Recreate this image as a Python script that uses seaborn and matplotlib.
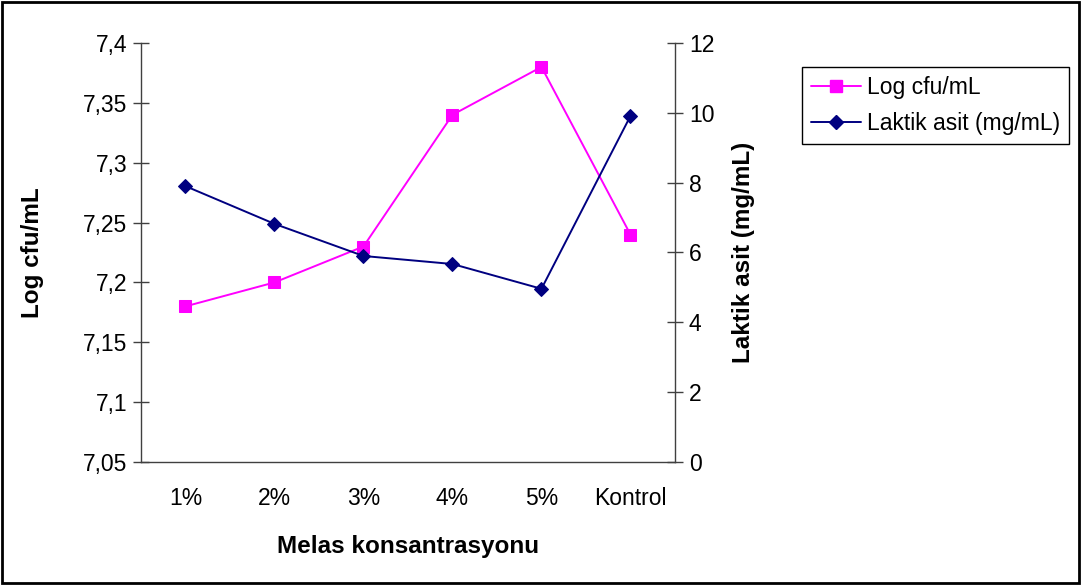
import pandas as pd
import numpy as np
import matplotlib
matplotlib.use('Agg')
import matplotlib.pyplot as plt
import seaborn as sns
from matplotlib.lines import Line2D

categories = ['1%', '2%', '3%', '4%', '5%', 'Kontrol']
log_cfu = [7.18, 7.20, 7.23, 7.34, 7.38, 7.24]
laktik_asit = [7.9, 6.82, 5.9, 5.67, 4.96, 9.91]
left_ticks = [7.05, 7.1, 7.15, 7.2, 7.25, 7.3, 7.35, 7.4]
left_ticklabels = ['7,05', '7,1', '7,15', '7,2', '7,25', '7,3', '7,35', '7,4']
right_ticks = [0, 2, 4, 6, 8, 10, 12]

df = pd.DataFrame({'Konsantrasyon': categories, 'LogCfu': log_cfu, 'Laktik': laktik_asit})

sns.set_style('white')
plt.rcParams['font.family'] = ['Liberation Sans', 'DejaVu Sans']
plt.rcParams['text.color'] = 'black'
plt.rcParams['axes.labelcolor'] = 'black'
plt.rcParams['xtick.labelcolor'] = 'black'
plt.rcParams['ytick.labelcolor'] = 'black'
FS = 16.5
FS_LABEL = 17.5
PINK = '#FF00FF'
NAVY = '#000080'

fig = plt.figure(figsize=(10.82, 5.85), dpi=100)
ax = fig.add_axes([0.1303, 0.2103, 0.4935, 0.7162])
ax2 = ax.twinx()

sns.lineplot(data=df, x='Konsantrasyon', y='LogCfu', sort=False, color=PINK, marker='s',
             markersize=9, markeredgecolor=PINK, linewidth=1.4, ax=ax)
sns.lineplot(data=df, x='Konsantrasyon', y='Laktik', sort=False, color=NAVY, marker='D',
             markersize=7.5, markeredgecolor=NAVY, linewidth=1.4, ax=ax2)

ax.set_xlim(-0.5, len(categories) - 0.5)
ax.set_ylim(7.05, 7.4)
ax2.set_ylim(0, 12)
ax.set_yticks(left_ticks)
ax.set_yticklabels(left_ticklabels)
ax2.set_yticks(right_ticks)
ax.set_xticks(range(len(categories)))
ax.set_xticklabels(categories)
ax.set_xticks(np.arange(-0.5, len(categories)), minor=True)

for a in (ax, ax2):
    a.spines['top'].set_visible(False)
    for s in a.spines.values():
        s.set_color('#404040')
        s.set_linewidth(1.0)
ax.spines['right'].set_visible(False)
ax2.spines['left'].set_visible(False)
ax2.spines['bottom'].set_visible(False)

ax.tick_params(axis='x', which='major', length=0, pad=18, labelsize=FS, labelcolor='black')
ax.tick_params(axis='x', which='minor', direction='inout', length=12, width=1.0, color='#404040')
ax.tick_params(axis='y', direction='inout', length=12, width=1.0, color='#404040',
               labelsize=FS, pad=4, labelcolor='black')
ax2.tick_params(axis='y', direction='inout', length=12, width=1.0, color='#404040',
                labelsize=FS, pad=4, labelcolor='black')

ax.set_xlabel('Melas konsantrasyonu', fontsize=FS_LABEL, fontweight='bold', labelpad=18, color='black')
ax.set_ylabel('Log cfu/mL', fontsize=FS_LABEL, fontweight='bold', labelpad=28, color='black')
ax2.set_ylabel('Laktik asit (mg/mL)', fontsize=FS_LABEL, fontweight='bold', labelpad=13, color='black')
ax.grid(False)
ax2.grid(False)

handles = [Line2D([], [], color=PINK, marker='s', markersize=9, linewidth=1.4),
           Line2D([], [], color=NAVY, marker='D', markersize=7.5, linewidth=1.4)]
leg = fig.legend(handles, ['Log cfu/mL', 'Laktik asit (mg/mL)'], loc='upper left',
                 bbox_to_anchor=(0.741, 0.885), borderaxespad=0, fontsize=FS, frameon=True,
                 fancybox=False, edgecolor='black', framealpha=1, borderpad=0.4,
                 handlelength=2.2, handletextpad=0.25, labelspacing=0.55)
leg.get_frame().set_linewidth(1.0)
for t in leg.get_texts():
    t.set_color('black')

fig.patches.append(plt.Rectangle((0.002, 0.003), 0.995, 0.994, transform=fig.transFigure,
                                 fill=False, edgecolor='black', linewidth=2))

plt.savefig('out.png', dpi=100)
plt.close()
